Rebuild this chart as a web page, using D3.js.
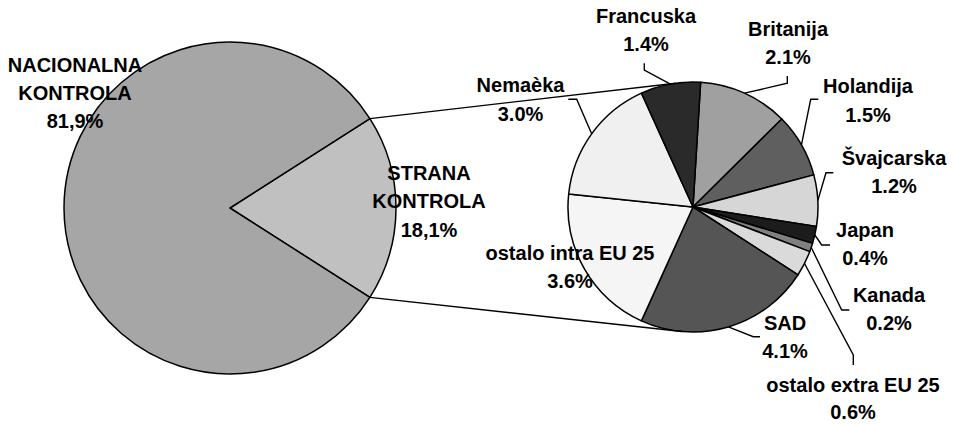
<!DOCTYPE html>
<html>
<head>
<meta charset="utf-8">
<script src="https://cdn.jsdelivr.net/npm/d3@7"></script>
<style>
  body { margin: 0; background: #fff; }
  text { font-family: "Liberation Sans", Arial, sans-serif; font-weight: bold; font-size: 20px; fill: #000; }
</style>
</head>
<body>
<div id="chart"></div>
<script>
// primary pie
const mainNames = ["STRANA\nKONTROLA", "NACIONALNA\nKONTROLA"];
const mainValues = [18.1, 81.9];
const mainText = ["18,1%", "81,9%"];

// secondary pie (breakdown of STRANA KONTROLA), clockwise from the top
const subNames = ["Britanija", "Holandija", "Švajcarska", "Japan", "Kanada",
  "ostalo extra EU 25", "SAD", "ostalo intra EU 25", "Nemaèka", "Francuska"];
const subValues = [2.1, 1.5, 1.2, 0.4, 0.2, 0.6, 4.1, 3.6, 3.0, 1.4];
const subText = ["2.1%", "1.5%", "1.2%", "0.4%", "0.2%", "0.6%", "4.1%", "3.6%", "3.0%", "1.4%"];

const mainColors = ["#c0c0c0", "#a6a6a6"];
const subColors = ["#a0a0a0", "#5f5f5f", "#d6d6d6", "#1c1c1c", "#808080",
  "#dadada", "#555555", "#f5f5f5", "#f0f0f0", "#2a2a2a"];

const width = 953, height = 425;
const deg = Math.PI / 180;

const svg = d3.select("#chart").append("svg")
  .attr("width", width)
  .attr("height", height);

const main = { cx: 230, cy: 208, r: 166 };
const sub = { cx: 693, cy: 207, r: 125 };

// strana slice centred on 3 o'clock
const strSpan = mainValues[0] / d3.sum(mainValues) * 360;
const mainPie = d3.pie().sort(null)
  .startAngle((90 - strSpan / 2) * deg)
  .endAngle((450 - strSpan / 2) * deg);
const subPie = d3.pie().sort(null)
  .startAngle(3.5 * deg)
  .endAngle(363.5 * deg);

const mainArcs = mainPie(mainValues);
const subArcs = subPie(subValues);

const mainArc = d3.arc().innerRadius(0).outerRadius(main.r);
const subArc = d3.arc().innerRadius(0).outerRadius(sub.r);

const polar = (c, r, a) => [c.cx + r * Math.sin(a), c.cy - r * Math.cos(a)];

// pies
svg.append("g").attr("transform", `translate(${main.cx},${main.cy})`)
  .selectAll("path").data(mainArcs).join("path")
  .attr("d", mainArc)
  .attr("fill", (d, i) => mainColors[i])
  .attr("stroke", "#000")
  .attr("stroke-width", 1.5)
  .attr("stroke-linejoin", "round");

svg.append("g").attr("transform", `translate(${sub.cx},${sub.cy})`)
  .selectAll("path").data(subArcs).join("path")
  .attr("d", subArc)
  .attr("fill", (d, i) => subColors[i])
  .attr("stroke", "#000")
  .attr("stroke-width", 1.5)
  .attr("stroke-linejoin", "round");

// connector lines between the strana slice and the secondary pie
const conn = [
  [polar(main, main.r, mainArcs[0].startAngle), polar(sub, sub.r, -8 * deg)],
  [polar(main, main.r, mainArcs[0].endAngle), polar(sub, sub.r, 185 * deg)]
];
svg.append("g").selectAll("line").data(conn).join("line")
  .attr("x1", d => d[0][0]).attr("y1", d => d[0][1])
  .attr("x2", d => d[1][0]).attr("y2", d => d[1][1])
  .attr("stroke", "#000")
  .attr("stroke-width", 1.4);

// leader lines: pie edge -> elbow -> end
const leaders = [
  [[787.3, 83.3], [787.3, 76]],
  [[810.7, 99.3], [818.3, 99.3]],
  [[826, 172.7], [833.3, 172.7]],
  [[821.7, 245], [830, 245]],
  [[841.7, 310], [849.3, 310]],
  [[853.3, 355], [853.3, 365]],
  [[753.3, 336.7], [760, 336.7]],
  null,
  [[576.7, 99.3], [568.3, 99.3]],
  [[644.3, 70], [644.3, 63.3]]
];
subArcs.forEach((d, i) => {
  if (!leaders[i]) return;
  const mid = (d.startAngle + d.endAngle) / 2;
  const pts = [polar(sub, sub.r, mid)].concat(leaders[i]);
  svg.append("path")
    .attr("d", d3.line()(pts))
    .attr("fill", "none")
    .attr("stroke", "#000")
    .attr("stroke-width", 1.4);
});

// label positions: centre x, first baseline
const lineH = 28.3;
const mainPos = [[429, 180], [75, 71.7]];
const subPos = [[788, 36], [868, 93.3], [894, 165], [865, 236.7], [889, 301.7],
  [853, 392], [785, 330], [570, 260], [520.5, 92.3], [646, 22.7]];

function addLabel(name, val, pos, lh) {
  const lines = name.split("\n").concat([val]);
  const t = svg.append("text")
    .attr("text-anchor", "middle");
  lines.forEach((s, k) => {
    t.append("tspan")
      .attr("x", pos[0])
      .attr("y", pos[1] + k * lh)
      .text(s);
  });
}

mainNames.forEach((n, i) => addLabel(n, mainText[i], mainPos[i], lineH));
subNames.forEach((n, i) => addLabel(n, subText[i], subPos[i], i === 5 ? 26.5 : lineH));
</script>
</body>
</html>
